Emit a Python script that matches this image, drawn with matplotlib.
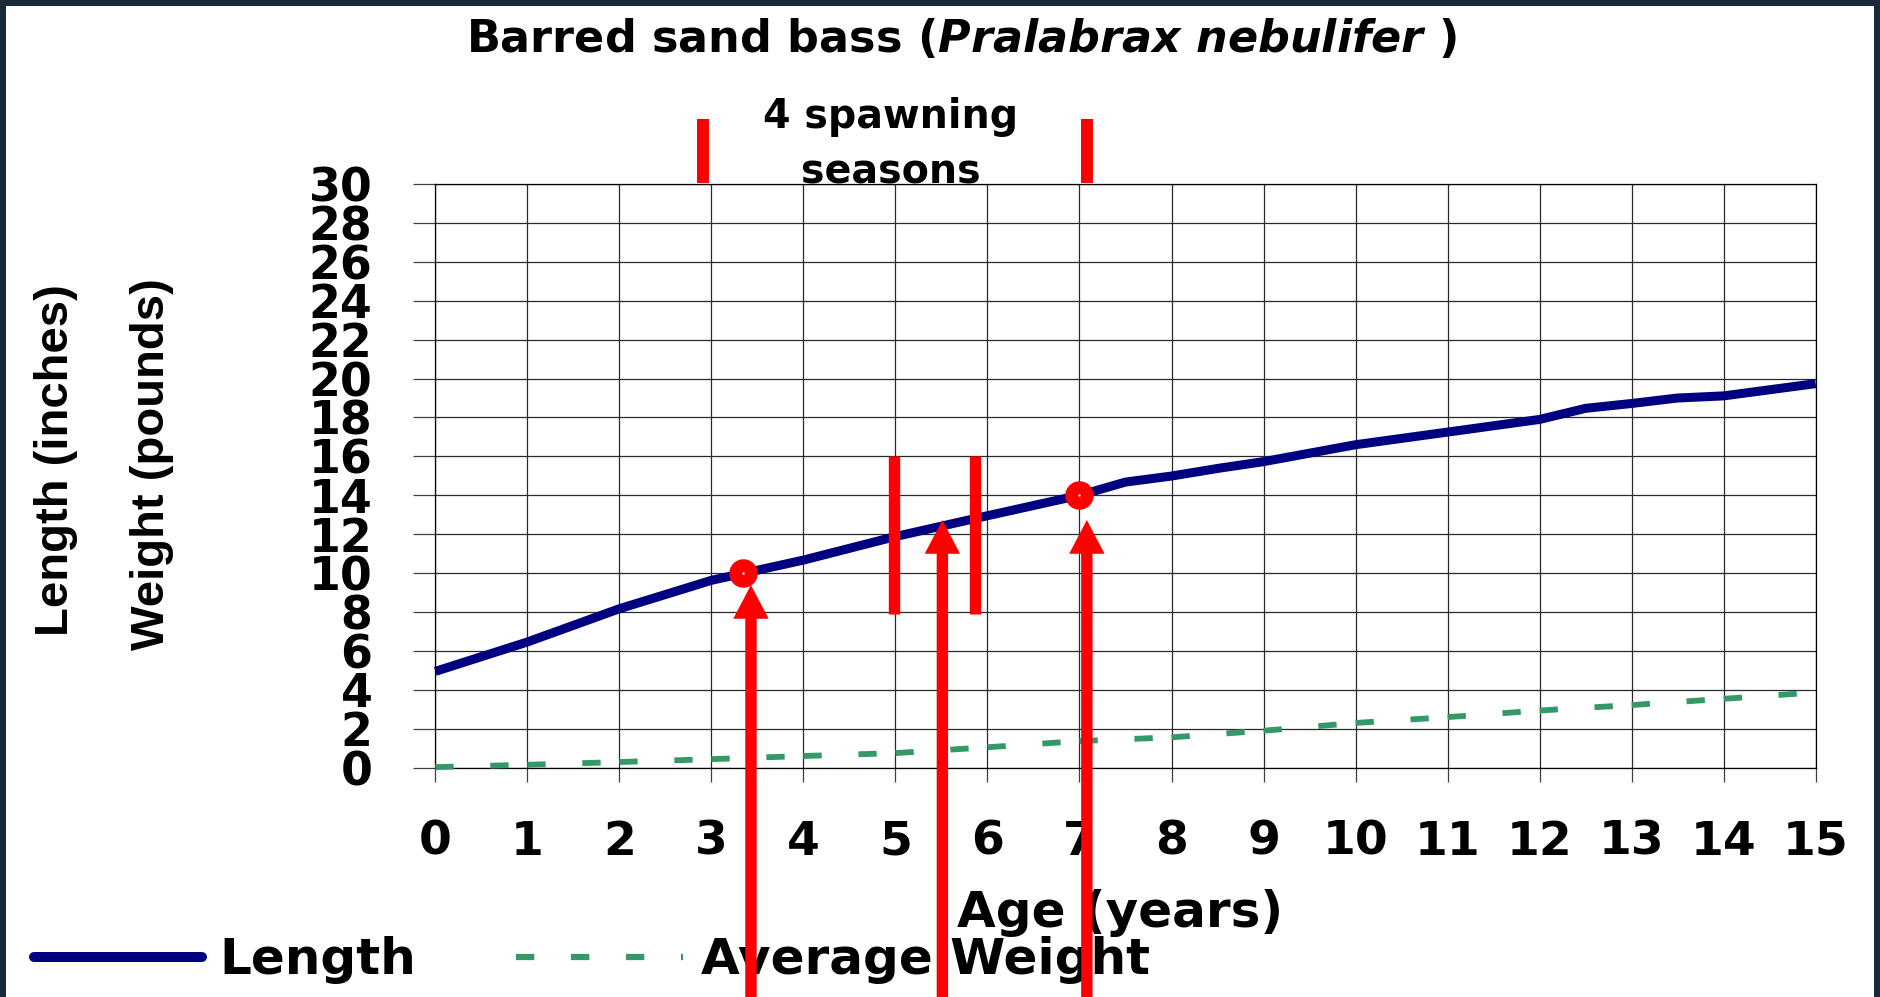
import matplotlib
matplotlib.use("Agg")
import matplotlib.pyplot as plt
from matplotlib.lines import Line2D
from matplotlib.collections import LineCollection
from matplotlib.patches import Rectangle

plt.rcParams["font.family"] = ["DejaVu Sans"]
plt.rcParams["font.weight"] = "bold"
plt.rcParams["lines.scale_dashes"] = False
plt.rcParams["mathtext.fontset"] = "custom"
plt.rcParams["mathtext.rm"] = "DejaVu Sans:bold"
plt.rcParams["mathtext.it"] = "DejaVu Sans:italic:bold"

# ---- growth data -------------------------------------------------------
length_ages = [0, 1, 2, 3, 4, 5, 6, 7, 7.5, 8, 8.5, 9, 10, 11, 12, 12.5, 13, 13.5, 14, 15]
length_in = [4.95, 6.46, 8.17, 9.63, 10.67, 11.88, 12.95, 14.0, 14.68, 14.99,
             15.38, 15.73, 16.6, 17.25, 17.9, 18.47, 18.72, 19.0, 19.11, 19.74]

weight_ages = [0, 1, 2, 3, 4, 5, 6, 7, 8, 9, 10, 11, 12, 13, 14, 15]
weight_lb = [0.03, 0.15, 0.29, 0.44, 0.60, 0.75, 1.05, 1.37, 1.56, 1.90,
             2.30, 2.60, 2.94, 3.22, 3.54, 3.87]

# ---- annotation marks ----------------------------------------------------
maturity_age = [3.34, 7.0]
maturity_len = [10.0, 14.0]
arrow_age = [3.43, 5.51, 7.08]
arrow_tip = [9.39, 12.73, 12.73]
season_bar_age = [4.98, 5.87]
season_bar_span = [7.9, 16.0]
bracket_age = [2.91, 7.08]
bracket_span = [30.07, 33.34]

x_ticks = list(range(0, 16))
y_ticks = list(range(0, 31, 2))
x_labels = [str(v) for v in x_ticks]
y_labels = [str(v) for v in y_ticks]

series_labels = ["Length", "Average Weight"]

NAVY = "#000080"
GREEN = "#339966"
RED = "#ff0000"

W, H = 1881, 997
fig = plt.figure(figsize=(W / 100, H / 100), dpi=100)
fig.patch.set_facecolor("#1b2a3b")
fig.add_artist(Rectangle((6 / W, 0), (1874 - 6) / W, (H - 6) / H,
                         transform=fig.transFigure, facecolor="white",
                         edgecolor="none", zorder=-1))

x0, x1, ytop, ybot = 435.3, 1815.7, 184.0, 767.7
ax = fig.add_axes([x0 / W, 1 - ybot / H, (x1 - x0) / W, (ybot - ytop) / H])
ax.set_xlim(0, 15)
ax.set_ylim(0, 30)

ax.set_xticks(x_ticks)
ax.set_yticks(y_ticks)
ax.set_xticklabels(x_labels, fontsize=34, fontweight="bold")
ax.set_yticklabels(y_labels, fontsize=33, fontweight="bold")
ax.tick_params(axis="y", direction="out", length=15.8, width=0.9,
               color="#404040", pad=29.5)
ax.tick_params(axis="x", direction="out", length=10, width=0.9,
               color="#404040", pad=27.4)
ax.grid(True, color="#2a2a2a", lw=0.9)
ax.set_axisbelow(True)
for sp in ax.spines.values():
    sp.set_color("black")
    sp.set_linewidth(0.9)

# length curve
ax.plot(length_ages, length_in, color=NAVY, lw=6.5, solid_joinstyle="round",
        solid_capstyle="butt", zorder=4, clip_on=False)

# weight curve: each yearly segment restarts the dash pattern
dash = (0, (13.2, 26.4))
segs = [[(weight_ages[i], weight_lb[i]), (weight_ages[i + 1], weight_lb[i + 1])]
        for i in range(len(weight_ages) - 1)]
ax.add_collection(LineCollection(segs, colors=GREEN, linewidths=4.2,
                                 linestyles=[dash], capstyle="butt",
                                 zorder=3, clip_on=False))

# spawning-season bars
ax.vlines(season_bar_age, season_bar_span[0], season_bar_span[1],
          colors=RED, lw=8.2, zorder=5)
ax.vlines(bracket_age, bracket_span[0], bracket_span[1],
          colors=RED, lw=8.6, zorder=5, clip_on=False)

# maturity points
ax.plot(maturity_age, maturity_len, "o", ms=19.5, color=RED, mec=RED, zorder=6)
ax.plot(maturity_age, maturity_len, "o", ms=1.8, color="#e0e0e0", mec="none", zorder=7)

# arrows rising from below the chart
for xa, tip in zip(arrow_age, arrow_tip):
    ax.annotate("", xy=(xa, tip), xytext=(xa, -14),
                arrowprops=dict(facecolor=RED, edgecolor="none", width=8.2,
                                headwidth=25.5, headlength=24.3, shrink=0),
                annotation_clip=False, zorder=10)

# axis titles
ax.set_xlabel("Age (years)", fontsize=36, fontweight="bold")
ax.xaxis.set_label_coords((1120 - x0) / (x1 - x0), (ybot - 926.7) / (ybot - ytop))
ax.xaxis.label.set_verticalalignment("baseline")

fig.text(56 / W, 1 - 460 / H, "Length (inches)", rotation=90, ha="center",
         va="center", family="Liberation Sans", fontsize=34, fontweight="bold")
fig.text(152 / W, 1 - 464 / H, "Weight (pounds)", rotation=90, ha="center",
         va="center", family="Liberation Sans", fontsize=34, fontweight="bold")

# title with italic species name
fig.text(961.5 / W, 1 - 51.7 / H,
         r"Barred sand bass ($\mathit{Pralabrax\ nebulifer}$ )",
         ha="center", va="baseline", fontsize=32, fontweight="bold")

fig.text(891 / W, 1 - 128.3 / H, "4 spawning", ha="center", va="baseline",
         fontsize=28.5, fontweight="bold")
fig.text(891 / W, 1 - 183.5 / H, "seasons", ha="center", va="baseline",
         fontsize=28.5, fontweight="bold")

# legend
handles = [
    Line2D([], [], color=NAVY, lw=7.2, solid_capstyle="round"),
    Line2D([], [], color=GREEN, lw=4.5, linestyle=dash, dash_capstyle="butt"),
]
leg = ax.legend(handles, series_labels, ncol=2, loc="center left",
                bbox_to_anchor=(34 / W, 1 - 960 / H), bbox_transform=fig.transFigure,
                frameon=False, fontsize=36, handlelength=3.35, handletextpad=0.35,
                columnspacing=2.0, borderpad=0, borderaxespad=0)
leg.set_zorder(5)

fig.savefig("out.png", dpi=100, facecolor=fig.get_facecolor())
